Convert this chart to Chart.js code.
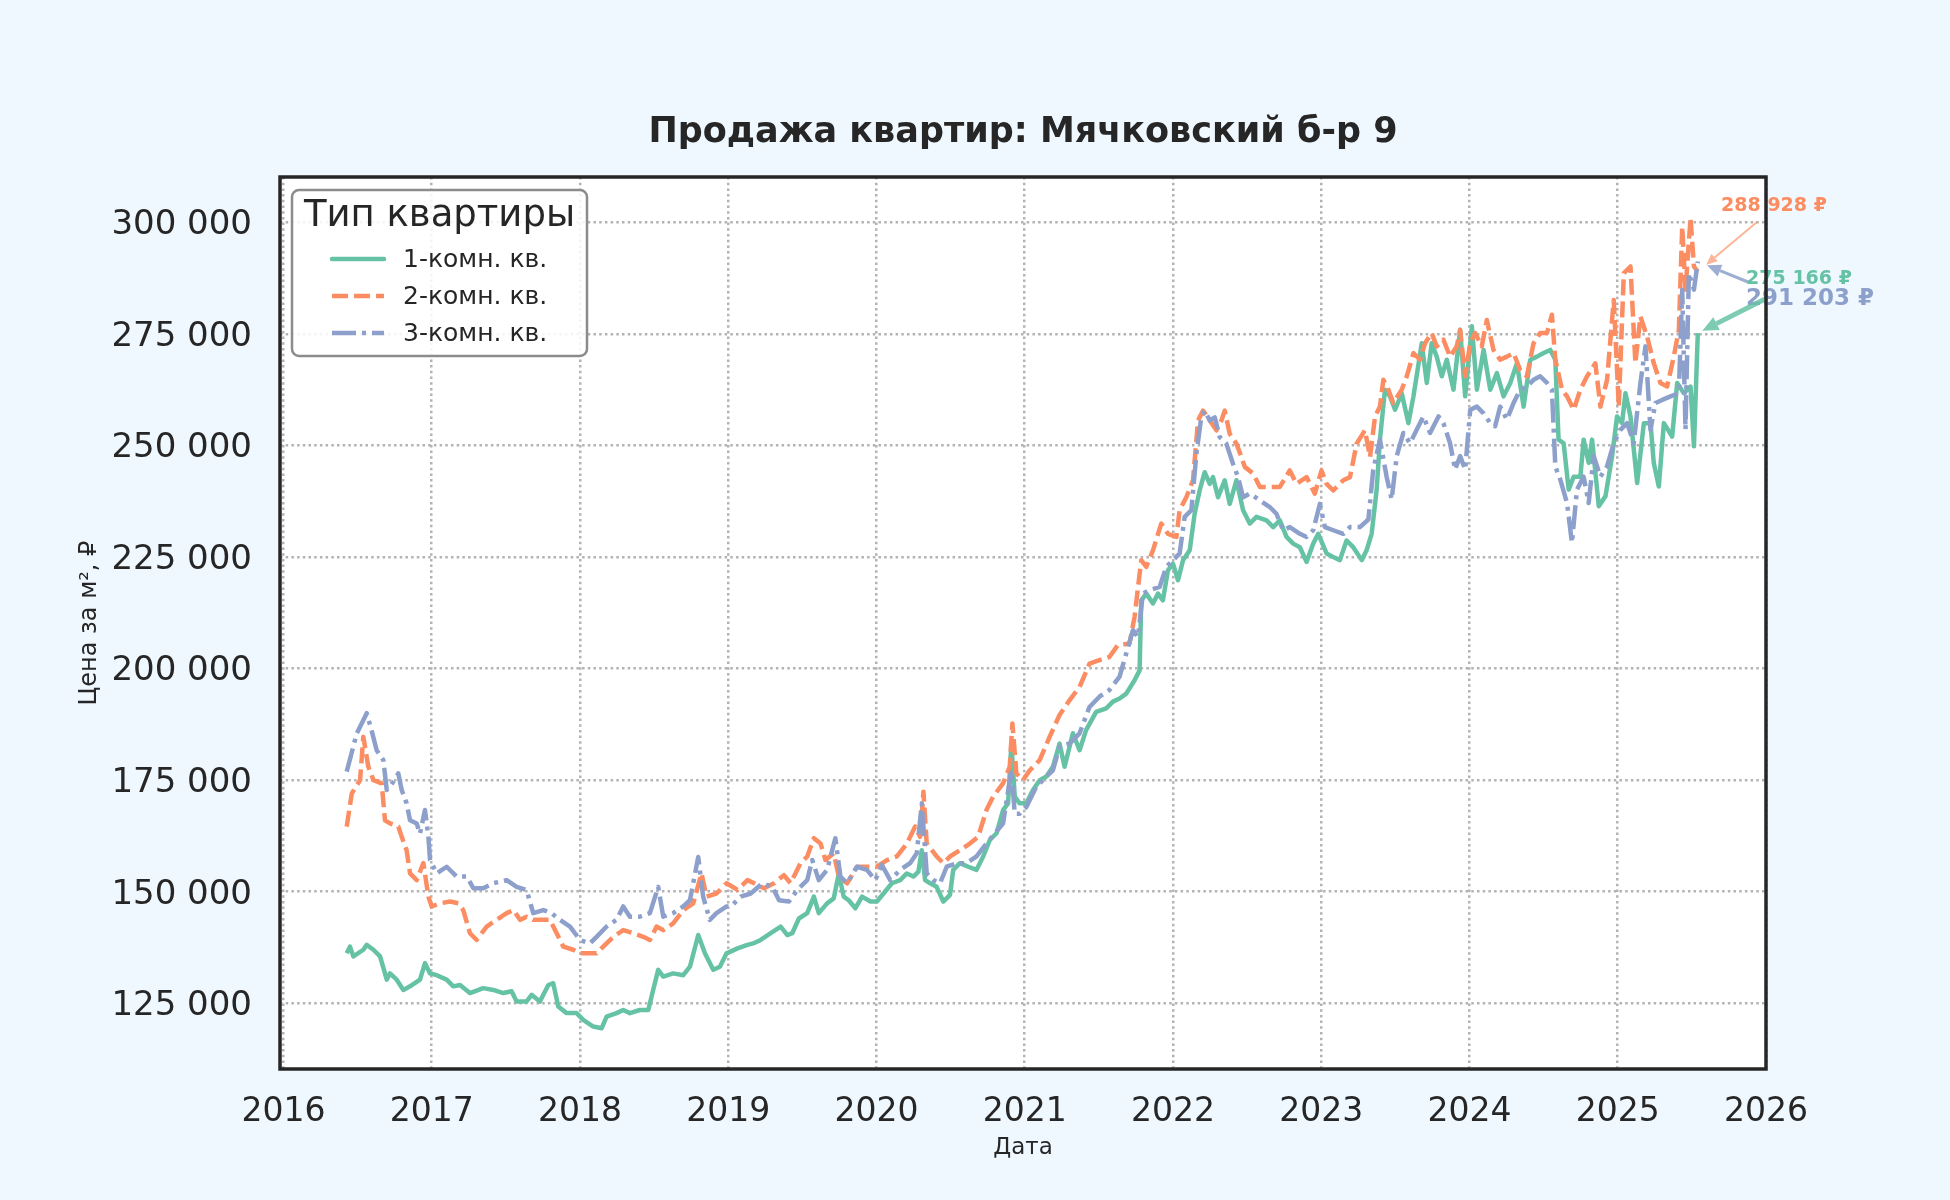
<!DOCTYPE html>
<html lang="ru">
<head>
<meta charset="utf-8">
<title>Продажа квартир: Мячковский б-р 9</title>
<script src="https://cdn.jsdelivr.net/npm/chart.js@4.4.1/dist/chart.umd.min.js"></script>
<style>
  html, body { margin: 0; padding: 0; background: #f0f8ff; }
  #chart { display: block; }
</style>
</head>
<body>
<canvas id="chart" width="1950" height="1200"></canvas>
<script>
// 1-комн. кв.
const room1Years = [2016.427, 2016.449, 2016.472, 2016.539, 2016.562, 2016.607, 2016.652, 2016.697, 2016.719, 2016.764, 2016.809, 2016.854, 2016.921, 2016.955, 2016.989,
    2017.034, 2017.101, 2017.146, 2017.191, 2017.258, 2017.348, 2017.416, 2017.483, 2017.539, 2017.573, 2017.640, 2017.674, 2017.730, 2017.787, 2017.820, 2017.854, 2017.910, 2017.978,
    2018.022, 2018.090, 2018.146, 2018.180, 2018.247, 2018.292, 2018.337, 2018.404, 2018.461, 2018.494, 2018.528, 2018.562, 2018.629, 2018.697, 2018.742, 2018.798, 2018.843, 2018.899, 2018.944, 2018.989,
    2019.063, 2019.130, 2019.175, 2019.219, 2019.287, 2019.354, 2019.399, 2019.432, 2019.477, 2019.533, 2019.578, 2019.611, 2019.667, 2019.712, 2019.746, 2019.779, 2019.813, 2019.858, 2019.903, 2019.959,
    2020.003, 2020.048, 2020.104, 2020.160, 2020.205, 2020.250, 2020.283, 2020.306, 2020.328, 2020.362, 2020.406, 2020.451, 2020.496, 2020.518, 2020.563, 2020.619, 2020.675, 2020.720, 2020.765, 2020.810, 2020.854, 2020.888, 2020.910, 2020.933, 2020.966,
    2021.011, 2021.056, 2021.101, 2021.146, 2021.190, 2021.235, 2021.269, 2021.325, 2021.370, 2021.414, 2021.482, 2021.550, 2021.595, 2021.640, 2021.685, 2021.741, 2021.775, 2021.786, 2021.820, 2021.865, 2021.899, 2021.932, 2021.966,
    2022.000, 2022.034, 2022.068, 2022.113, 2022.146, 2022.180, 2022.214, 2022.248, 2022.270, 2022.304, 2022.349, 2022.383, 2022.428, 2022.473, 2022.518, 2022.563, 2022.631, 2022.676, 2022.721, 2022.766, 2022.811, 2022.856, 2022.901, 2022.946, 2022.980,
    2023.036, 2023.081, 2023.126, 2023.171, 2023.216, 2023.273, 2023.306, 2023.340, 2023.374, 2023.396, 2023.430, 2023.464, 2023.498, 2023.543, 2023.588, 2023.622, 2023.678, 2023.712, 2023.745, 2023.779, 2023.813, 2023.847, 2023.892, 2023.937, 2023.971,
    2024.016, 2024.050, 2024.095, 2024.140, 2024.185, 2024.230, 2024.275, 2024.320, 2024.365, 2024.410, 2024.455, 2024.500, 2024.545, 2024.579, 2024.601, 2024.635, 2024.669, 2024.703, 2024.748, 2024.770, 2024.804, 2024.827, 2024.872, 2024.917, 2024.962, 2024.995,
    2025.029, 2025.052, 2025.086, 2025.131, 2025.176, 2025.221, 2025.243, 2025.277, 2025.311, 2025.367, 2025.401, 2025.446, 2025.491, 2025.514, 2025.540];
const room1Prices = [136200, 137700, 135500, 137000, 138100, 137000, 135500, 130300, 131700, 130300, 128000, 128800, 130300, 134000, 131700,
    131300, 130300, 128800, 129100, 127300, 128400, 128000, 127300, 127700, 125400, 125400, 126900, 125400, 129100, 129500, 124300, 122800, 122800,
    121300, 119800, 119400, 122000, 122800, 123500, 122800, 123500, 123500, 128000, 132500, 131000, 131700, 131300, 133200, 140300, 136200, 132500, 133200, 136200,
    137300, 138100, 138500, 139200, 140700, 142200, 140300, 140700, 144000, 145200, 148900, 145200, 147400, 148500, 154100, 148900, 148100, 146300, 148900, 147800,
    147800, 149600, 151900, 152600, 154100, 153400, 154500, 159300, 152600, 151900, 151100, 147800, 149300, 154900, 156400, 155600, 154900, 157900, 161600, 163100, 168300, 169800, 183200, 171300, 169800,
    169800, 172800, 175000, 175800, 178000, 183200, 178000, 185500, 181700, 186200, 190300, 191100, 192600, 193300, 194400, 197400, 199600, 215300, 216800, 214600, 216800, 215300, 222000,
    223500, 219800, 224300, 226500, 234700, 239900, 244000, 241400, 242900, 238400, 242200, 236900, 242200, 235500, 232500, 234000, 233200, 231700, 233200, 229500, 228000, 227200, 223900, 228000, 230200,
    225800, 225000, 224300, 228700, 227200, 224300, 226500, 230200, 240100, 251300, 262500, 261000, 258000, 261700, 255000, 261000, 272900, 264000, 272900, 269900, 265500, 269200, 262500, 275900, 261000,
    276700, 262500, 271400, 262500, 266200, 261000, 264000, 268400, 258700, 269200, 269900, 270700, 271400, 269200, 251300, 250500, 240100, 243000, 243000, 251300, 246100, 251300, 236400, 238600, 247600, 256500,
    255000, 261700, 256500, 241600, 255000, 255000, 246100, 240800, 255000, 252000, 264000, 261700, 263200, 249800, 275166];

// 2-комн. кв.
const room2Years = [2016.427, 2016.461, 2016.517, 2016.539, 2016.573, 2016.607, 2016.663, 2016.685, 2016.719, 2016.775, 2016.798, 2016.831, 2016.854, 2016.899, 2016.944, 2016.978,
    2017.000, 2017.056, 2017.124, 2017.180, 2017.213, 2017.258, 2017.303, 2017.371, 2017.438, 2017.506, 2017.551, 2017.596, 2017.640, 2017.685, 2017.753, 2017.798, 2017.843, 2017.888, 2017.955,
    2018.000, 2018.067, 2018.112, 2018.157, 2018.225, 2018.292, 2018.360, 2018.427, 2018.472, 2018.517, 2018.562, 2018.629, 2018.697, 2018.764, 2018.820, 2018.854, 2018.921, 2018.989,
    2019.063, 2019.130, 2019.175, 2019.242, 2019.309, 2019.376, 2019.421, 2019.488, 2019.533, 2019.578, 2019.623, 2019.656, 2019.712, 2019.746, 2019.802, 2019.869, 2019.936,
    2020.003, 2020.071, 2020.138, 2020.205, 2020.261, 2020.294, 2020.317, 2020.339, 2020.406, 2020.451, 2020.496, 2020.563, 2020.630, 2020.686, 2020.742, 2020.787, 2020.854, 2020.899, 2020.917, 2020.944, 2020.989,
    2021.034, 2021.101, 2021.168, 2021.235, 2021.302, 2021.370, 2021.437, 2021.504, 2021.571, 2021.627, 2021.707, 2021.741, 2021.786, 2021.820, 2021.865, 2021.921, 2021.966,
    2022.023, 2022.045, 2022.090, 2022.135, 2022.169, 2022.203, 2022.248, 2022.293, 2022.327, 2022.349, 2022.383, 2022.428, 2022.462, 2022.484, 2022.541, 2022.586, 2022.653, 2022.721, 2022.788, 2022.833, 2022.901, 2022.957,
    2023.002, 2023.036, 2023.081, 2023.149, 2023.194, 2023.239, 2023.295, 2023.329, 2023.363, 2023.396, 2023.419, 2023.453, 2023.486, 2023.543, 2023.577, 2023.622, 2023.667, 2023.700, 2023.745, 2023.779, 2023.824, 2023.869, 2023.914, 2023.937, 2023.971,
    2024.005, 2024.038, 2024.083, 2024.117, 2024.162, 2024.207, 2024.252, 2024.297, 2024.342, 2024.387, 2024.432, 2024.477, 2024.523, 2024.556, 2024.579, 2024.624, 2024.658, 2024.703, 2024.748, 2024.793, 2024.849, 2024.883, 2024.928, 2024.973,
    2025.007, 2025.041, 2025.086, 2025.119, 2025.153, 2025.198, 2025.243, 2025.288, 2025.333, 2025.378, 2025.412, 2025.435, 2025.457, 2025.491, 2025.514, 2025.540];
const room2Prices = [164600, 172000, 175000, 184700, 178000, 175000, 174300, 166000, 165300, 164600, 162300, 159300, 154100, 152600, 156400, 148900,
    146700, 147400, 147800, 147400, 145900, 140700, 139200, 142200, 143700, 145200, 145900, 143700, 144400, 143700, 143700, 143700, 140700, 137700, 137000,
    136200, 136200, 136200, 137700, 139900, 141400, 140700, 139900, 139200, 142200, 141400, 142900, 145900, 147400, 154100, 148900, 149600, 151900,
    150400, 152600, 151900, 150800, 151900, 153700, 151900, 156400, 157900, 162000, 160800, 157100, 158600, 153400, 151900, 155600, 155600,
    155600, 157100, 157900, 160800, 164600, 162300, 172400, 160800, 157900, 156400, 157900, 159300, 160800, 162300, 168300, 171300, 174300, 178000, 187700, 176500, 175000,
    177200, 179500, 184700, 189600, 192900, 195900, 201100, 201900, 202600, 205200, 205600, 211600, 224300, 222800, 226500, 232500, 230200,
    229500, 235500, 238400, 242200, 255600, 257800, 255600, 253400, 255600, 257800, 252600, 250400, 247400, 245200, 243700, 240700, 240700, 240700, 244400, 241400, 242900, 239200,
    244400, 241400, 239900, 242200, 242900, 250400, 253400, 247400, 256500, 258700, 264700, 262500, 259500, 262500, 265500, 270700, 269200, 272900, 275200, 272200, 273700, 269900, 272200, 275900, 265500,
    272900, 275200, 272200, 278100, 271400, 269200, 269900, 270700, 266900, 265500, 272900, 275200, 275200, 279300, 269200, 262500, 261000, 258000, 262500, 265500, 268400, 258700, 264700, 282600,
    258700, 288600, 290100, 268400, 278900, 274400, 268400, 264000, 263200, 269900, 275900, 299000, 284900, 300900, 290100, 288928];

// 3-комн. кв.
const room3Years = [2016.427, 2016.494, 2016.562, 2016.596, 2016.629, 2016.674, 2016.697, 2016.719, 2016.775, 2016.798, 2016.831, 2016.854, 2016.899, 2016.921, 2016.955, 2016.978, 2016.989,
    2017.034, 2017.101, 2017.169, 2017.236, 2017.281, 2017.348, 2017.416, 2017.506, 2017.573, 2017.640, 2017.685, 2017.753, 2017.809, 2017.865, 2017.933,
    2018.000, 2018.067, 2018.112, 2018.180, 2018.247, 2018.292, 2018.337, 2018.404, 2018.472, 2018.528, 2018.562, 2018.629, 2018.697, 2018.742, 2018.798, 2018.831, 2018.876, 2018.921, 2018.989,
    2019.018, 2019.085, 2019.152, 2019.231, 2019.298, 2019.343, 2019.410, 2019.466, 2019.533, 2019.567, 2019.611, 2019.667, 2019.723, 2019.757, 2019.802, 2019.869, 2019.936, 2019.992,
    2020.037, 2020.093, 2020.160, 2020.227, 2020.272, 2020.306, 2020.339, 2020.384, 2020.429, 2020.474, 2020.541, 2020.608, 2020.675, 2020.742, 2020.798, 2020.854, 2020.910, 2020.933, 2020.966,
    2021.011, 2021.078, 2021.146, 2021.190, 2021.235, 2021.302, 2021.370, 2021.437, 2021.504, 2021.571, 2021.640, 2021.685, 2021.730, 2021.764, 2021.797, 2021.842, 2021.910, 2021.955,
    2022.000, 2022.045, 2022.079, 2022.124, 2022.158, 2022.191, 2022.214, 2022.248, 2022.282, 2022.315, 2022.360, 2022.405, 2022.439, 2022.473, 2022.518, 2022.586, 2022.653, 2022.698, 2022.743, 2022.788, 2022.856, 2022.901, 2022.946, 2022.991,
    2023.025, 2023.081, 2023.149, 2023.194, 2023.261, 2023.318, 2023.351, 2023.396, 2023.441, 2023.475, 2023.509, 2023.554, 2023.599, 2023.644, 2023.689, 2023.734, 2023.791, 2023.824, 2023.869, 2023.903, 2023.937, 2023.971,
    2024.005, 2024.050, 2024.095, 2024.140, 2024.173, 2024.207, 2024.252, 2024.297, 2024.342, 2024.387, 2024.432, 2024.477, 2024.523, 2024.556, 2024.579, 2024.613, 2024.658, 2024.691, 2024.725, 2024.770, 2024.804, 2024.838, 2024.883, 2024.928, 2024.973,
    2025.018, 2025.063, 2025.108, 2025.153, 2025.187, 2025.221, 2025.254, 2025.300, 2025.356, 2025.412, 2025.435, 2025.457, 2025.480, 2025.514, 2025.540];
const room3Prices = [176900, 185400, 190000, 186000, 181700, 179500, 172800, 173500, 176500, 172800, 169800, 166000, 165300, 163000, 168300, 162300, 157100,
    154100, 155600, 153400, 153400, 150800, 150800, 151900, 152600, 151100, 150400, 145200, 145900, 145200, 143700, 142200,
    139200, 138400, 139900, 142200, 143700, 146700, 144400, 144400, 145200, 151100, 144400, 145200, 146700, 148100, 157800, 148900, 143700, 145200, 146700,
    146700, 148900, 149600, 151900, 151100, 148100, 147800, 150400, 152600, 157100, 152600, 154900, 162000, 153400, 151900, 155600, 154900, 152600,
    156000, 152600, 154900, 156400, 158600, 169800, 154100, 152600, 151900, 155600, 156400, 156400, 157900, 160800, 163100, 165300, 177200, 167500, 167500,
    169000, 173500, 175800, 177200, 182500, 183200, 185500, 191400, 193700, 195200, 198200, 203400, 208600, 207100, 216800, 217600, 218300, 222800,
    224300, 225800, 234000, 235500, 248100, 256300, 257800, 255600, 256300, 251900, 250400, 245900, 242900, 238400, 239200, 237700, 236200, 234700, 231000, 231700, 230200, 229500, 231000, 236900,
    231700, 231000, 230200, 231700, 231700, 233400, 244600, 251300, 243000, 237900, 247600, 252800, 250500, 253500, 256500, 252800, 256500, 255000, 250500, 244600, 247600, 244600,
    258000, 258700, 257200, 255000, 254300, 258700, 255800, 259500, 262500, 263200, 264700, 265500, 264000, 262500, 245300, 242300, 237100, 228200, 240100, 243000, 237100, 247600, 243000, 245300, 250500,
    253500, 255000, 250500, 264000, 272200, 253500, 259500, 260200, 261000, 261700, 284900, 253500, 288600, 284900, 291203];

const seriesLabels = ['1-комн. кв.', '2-комн. кв.', '3-комн. кв.'];
const seriesColors = ['#66c2a5', '#fc8d62', '#8da0cb'];
const xTicks = [2016, 2017, 2018, 2019, 2020, 2021, 2022, 2023, 2024, 2025, 2026];
const yTicks = [125000, 150000, 175000, 200000, 225000, 250000, 275000, 300000];

const FONT = 'DejaVu Sans';
const INK = '#262626';
const TITLE = 'Продажа квартир: Мячковский б-р 9';

function toPoints(years, prices) {
    return years.map((x, i) => ({ x: x, y: prices[i] }));
}

function formatRub(v) {
    return String(Math.round(v)).replace(/\B(?=(\d{3})+(?!\d))/g, ' ');
}

// where the value labels sit and how their arrows look
const callouts = [
    { ds: 1, textX: 1774, textY: 206, size: 19, from: [1757, 222], width: 2, head: 11, alpha: 0.65, shrink: 11 },
    { ds: 2, textX: 1810, textY: 299, size: 23, from: [1748, 282], width: 3, head: 14, alpha: 0.85, shrink: 10 },
    { ds: 0, textX: 1799, textY: 279, size: 19, from: [1767, 298], width: 5, head: 16, alpha: 0.85, shrink: 5 }
];

const backgroundPlugin = {
    id: 'background',
    beforeDraw(chart) {
        const { ctx, chartArea: a } = chart;
        ctx.save();
        ctx.fillStyle = '#f0f8ff';
        ctx.fillRect(0, 0, chart.width, chart.height);
        ctx.fillStyle = '#ffffff';
        ctx.fillRect(a.left, a.top, a.right - a.left, a.bottom - a.top);
        // title centred over the plot area, not the whole canvas
        ctx.fillStyle = INK;
        ctx.font = 'bold 35px "' + FONT + '"';
        ctx.textAlign = 'center';
        ctx.textBaseline = 'middle';
        ctx.fillText(TITLE, (a.left + a.right) / 2, 133);
        ctx.restore();
    }
};

const framePlugin = {
    id: 'frame',
    afterDraw(chart) {
        const { ctx, chartArea: a } = chart;
        ctx.save();
        ctx.strokeStyle = INK;
        ctx.lineWidth = 3.5;
        ctx.strokeRect(a.left, a.top, a.right - a.left, a.bottom - a.top);
        ctx.restore();
    }
};

const legendPlugin = {
    id: 'boxLegend',
    afterDatasetsDraw(chart) {
        const ctx = chart.ctx;
        const x = 292, y = 190, w = 295, h = 166, r = 7;
        ctx.save();
        ctx.beginPath();
        ctx.roundRect(x, y, w, h, r);
        ctx.fillStyle = 'rgba(255,255,255,0.85)';
        ctx.fill();
        ctx.lineWidth = 2.5;
        ctx.strokeStyle = '#8c8c8c';
        ctx.stroke();

        ctx.fillStyle = INK;
        ctx.textAlign = 'center';
        ctx.textBaseline = 'middle';
        ctx.font = '37px "' + FONT + '"';
        ctx.fillText('Тип квартиры', x + w / 2, 216);

        const rows = [259, 296, 333];
        chart.data.datasets.forEach((ds, i) => {
            ctx.beginPath();
            ctx.setLineDash(ds.borderDash || []);
            ctx.lineWidth = 4.5;
            ctx.lineCap = ds.borderDash && ds.borderDash.length ? 'butt' : 'round';
            ctx.strokeStyle = ds.borderColor;
            ctx.moveTo(332, rows[i]);
            ctx.lineTo(384, rows[i]);
            ctx.stroke();
            ctx.setLineDash([]);
            ctx.fillStyle = INK;
            ctx.textAlign = 'left';
            ctx.font = '25px "' + FONT + '"';
            ctx.fillText(ds.label, 403, rows[i] + 1);
        });
        ctx.restore();
    }
};

function hexAlpha(hex, a) {
    const n = parseInt(hex.slice(1), 16);
    return 'rgba(' + (n >> 16) + ',' + ((n >> 8) & 255) + ',' + (n & 255) + ',' + a + ')';
}

const calloutPlugin = {
    id: 'callouts',
    afterDraw(chart) {
        const ctx = chart.ctx;
        const xs = chart.scales.x, ys = chart.scales.y;
        ctx.save();
        callouts.forEach(c => {
            const ds = chart.data.datasets[c.ds];
            const last = ds.data[ds.data.length - 1];
            const px = xs.getPixelForValue(last.x);
            const py = ys.getPixelForValue(last.y);
            const dx = px - c.from[0], dy = py - c.from[1];
            const len = Math.hypot(dx, dy);
            const ux = dx / len, uy = dy / len;
            const tipX = px - ux * c.shrink, tipY = py - uy * c.shrink;
            const baseX = tipX - ux * c.head, baseY = tipY - uy * c.head;
            const col = hexAlpha(ds.borderColor, c.alpha);

            ctx.strokeStyle = col;
            ctx.fillStyle = col;
            ctx.lineWidth = c.width;
            ctx.lineCap = 'butt';
            ctx.beginPath();
            ctx.moveTo(c.from[0], c.from[1]);
            ctx.lineTo(baseX, baseY);
            ctx.stroke();

            const hw = c.head * 0.45;
            ctx.beginPath();
            ctx.moveTo(tipX, tipY);
            ctx.lineTo(baseX - uy * hw, baseY + ux * hw);
            ctx.lineTo(baseX + uy * hw, baseY - ux * hw);
            ctx.closePath();
            ctx.fill();

            ctx.fillStyle = ds.borderColor;
            ctx.font = 'bold ' + c.size + 'px "' + FONT + '"';
            ctx.textAlign = 'center';
            ctx.textBaseline = 'middle';
            ctx.fillText(formatRub(last.y) + ' ₽', c.textX, c.textY);
        });
        ctx.restore();
    }
};

const ctx = document.getElementById('chart').getContext('2d');

new Chart(ctx, {
    type: 'line',
    data: {
        datasets: [
            {
                label: seriesLabels[0],
                data: toPoints(room1Years, room1Prices),
                borderColor: seriesColors[0],
                borderWidth: 4.5,
                order: 3
            },
            {
                label: seriesLabels[1],
                data: toPoints(room2Years, room2Prices),
                borderColor: seriesColors[1],
                borderWidth: 4.5,
                borderDash: [16, 6],
                order: 2
            },
            {
                label: seriesLabels[2],
                data: toPoints(room3Years, room3Prices),
                borderColor: seriesColors[2],
                borderWidth: 4.5,
                borderDash: [24, 6, 4, 6],
                order: 1
            }
        ]
    },
    options: {
        responsive: false,
        animation: false,
        devicePixelRatio: 1,
        parsing: false,
        normalized: true,
        elements: {
            point: { radius: 0, hoverRadius: 0 },
            line: { tension: 0, borderJoinStyle: 'round', fill: false }
        },
        layout: { padding: { left: 0, right: 184, top: 177, bottom: 0 } },
        plugins: {
            legend: { display: false },
            tooltip: { enabled: false },
            title: { display: false }
        },
        scales: {
            x: {
                type: 'linear',
                min: 2015.977,
                max: 2026,
                afterFit(scale) { scale.height = 131; },
                afterBuildTicks(scale) { scale.ticks = xTicks.map(v => ({ value: v })); },
                ticks: {
                    color: INK,
                    padding: 24,
                    font: { family: FONT, size: 33 },
                    callback: v => String(v)
                },
                grid: { color: '#b3b3b3', lineWidth: 2.5, drawTicks: false },
                border: { display: false, dash: [2.5, 3.2] },
                title: {
                    display: true,
                    text: 'Дата',
                    color: INK,
                    font: { family: FONT, size: 23 },
                    padding: { top: 0, bottom: 38 }
                }
            },
            y: {
                type: 'linear',
                min: 110280,
                max: 310150,
                afterFit(scale) { scale.width = 280; },
                afterBuildTicks(scale) { scale.ticks = yTicks.map(v => ({ value: v })); },
                ticks: {
                    color: INK,
                    padding: 28,
                    labelOffset: 3,
                    font: { family: FONT, size: 34 },
                    callback: v => formatRub(v)
                },
                grid: { color: '#b3b3b3', lineWidth: 2.5, drawTicks: false },
                border: { display: false, dash: [2.5, 3.2] },
                title: {
                    display: true,
                    text: 'Цена за м², ₽',
                    color: INK,
                    font: { family: FONT, size: 24 },
                    padding: { top: 75, bottom: 0 }
                }
            }
        }
    },
    plugins: [backgroundPlugin, legendPlugin, calloutPlugin, framePlugin]
});
</script>
</body>
</html>
